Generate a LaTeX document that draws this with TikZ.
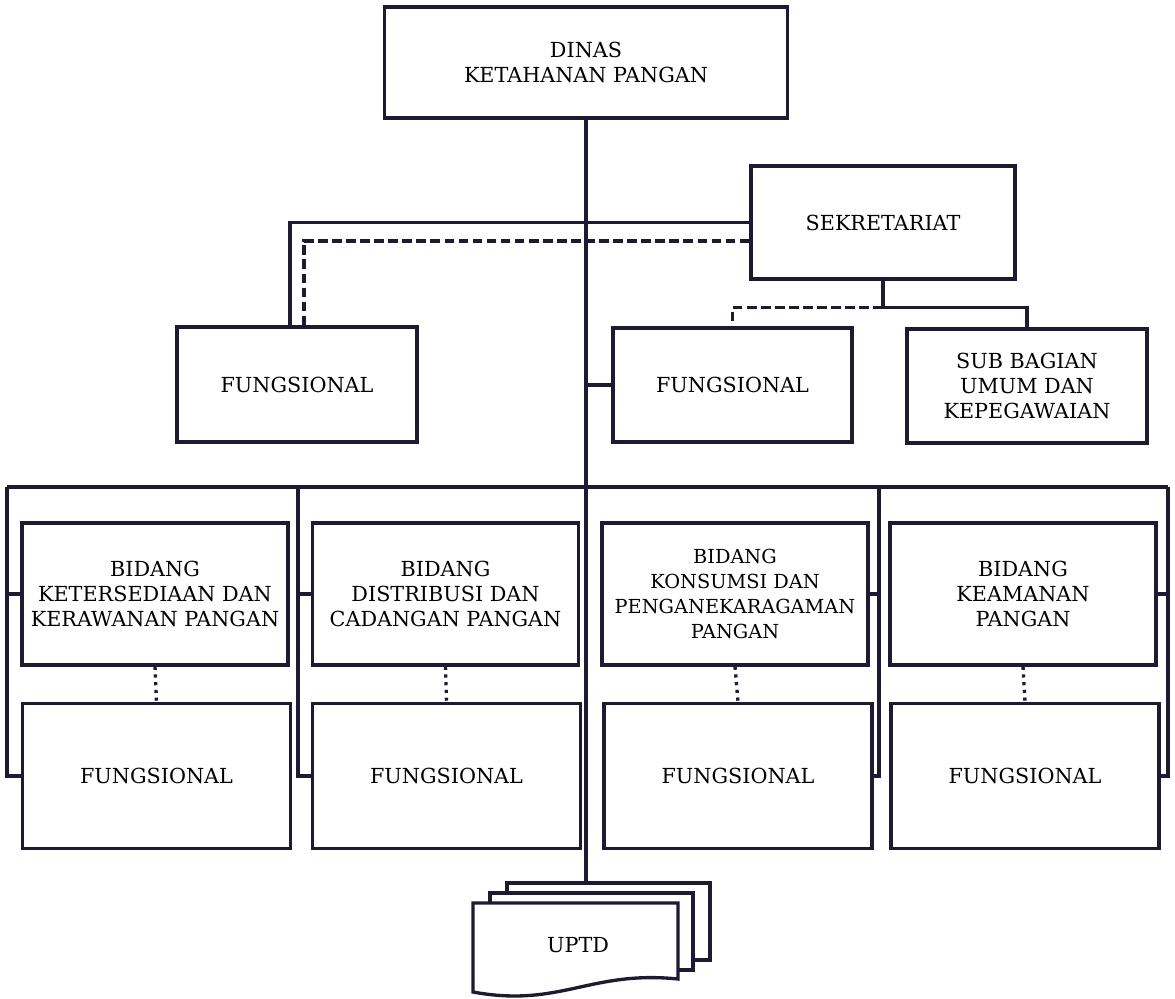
\documentclass[tikz,border=0pt]{standalone}
\usepackage{fontspec}
\setmainfont{DejaVu Serif}
\usepackage{tikz}
\definecolor{ink}{RGB}{30,26,50}

\begin{document}
\begin{tikzpicture}[x=0.02cm, y=-0.02cm, line width=1.9pt, draw=ink,
		box/.style={draw, align=center, inner sep=0pt, font=\fontsize{11.8}{14.2}\selectfont},
		bidbox/.style={box, minimum width=5.32cm, minimum height=2.84cm},
		funbox/.style={box, minimum width=5.36cm, minimum height=2.9cm},
		pagebox/.style={draw, fill=white, inner sep=0pt, minimum width=4.06cm, minimum height=1.54cm},
		dashlink/.style={dash pattern=on 5.5pt off 2.5pt},
		dotlink/.style={dash pattern=on 1.8pt off 2.6pt}]
	\useasboundingbox (0,0) rectangle (1175,999);

	% pimpinan dan sekretariat
	\node[box, minimum width=8.06cm, minimum height=2.22cm] (dinas) at (586,62.5) {DINAS\\KETAHANAN PANGAN};
	\node[box, minimum width=5.28cm, minimum height=2.26cm] (sekre) at (883,222.5) {SEKRETARIAT};
	\node[box, minimum width=4.8cm, minimum height=2.3cm] (fungL) at (297,384.5) {FUNGSIONAL};
	\node[box, minimum width=4.78cm, minimum height=2.28cm] (fungM) at (732.5,385) {FUNGSIONAL};
	\node[box, minimum width=4.8cm, minimum height=2.28cm] (subbag) at (1027,386) {SUB BAGIAN\\UMUM DAN\\KEPEGAWAIAN};

	% bidang
	\node[bidbox] (bid1) at (155,594) {BIDANG\\KETERSEDIAAN DAN\\KERAWANAN PANGAN};
	\node[bidbox] (bid2) at (445.5,594) {BIDANG\\DISTRIBUSI DAN\\CADANGAN PANGAN};
	\node[bidbox, font=\fontsize{11}{14.2}\selectfont] (bid3) at (735,594) {BIDANG\\KONSUMSI DAN\\PENGANEKARAGAMAN\\PANGAN};
	\node[bidbox] (bid4) at (1023,594) {BIDANG\\KEAMANAN\\PANGAN};
	\foreach \i/\x in {1/156.5,2/446.5,3/738,4/1025}
		\node[funbox] (fun\i) at (\x,776) {FUNGSIONAL};

	% uptd
	\node[pagebox] (uptd3) at (608.5,921.5) {};
	\node[pagebox] (uptd2) at (591.5,931.5) {};
	\filldraw[fill=white] (473,903) -- (678,903) -- (678,979) .. controls (590,970) and (560,1008) .. (473,992) -- cycle;
	\node[font=\fontsize{11.8}{14.2}\selectfont] (uptd) at (578,945) {UPTD};

	% garis
	\coordinate (busL) at (7,487);
	\coordinate (bus2) at (298,487);
	\coordinate (bus3) at (879,487);
	\coordinate (busR) at (1168,487);
	\draw (dinas.south) -- (dinas.south |- uptd3.north);
	\draw (dinas.south |- fungM.west) -- (fungM.west);
	\draw (sekre.west) -| ([xshift=-0.14cm]fungL.north);
	\draw[dashlink] ([yshift=-0.37cm]sekre.west) -| ([xshift=0.14cm]fungL.north);
	\coordinate (sj) at ([yshift=-0.54cm]sekre.south);
	\draw (sekre.south) -- (sj) -| (subbag.north);
	\draw[dashlink] (sj) -| (fungM.north);
	\draw (busL) -- (busR);
	\draw (busL) |- (fun1.west);
	\draw (bid1.west) -- (bid1.west -| busL);
	\draw (bus2) |- (fun2.west);
	\draw (bid2.west) -- (bid2.west -| bus2);
	\draw (bus3) |- (fun3.east);
	\draw (bid3.east) -- (bid3.east -| bus3);
	\draw (busR) |- (fun4.east);
	\draw (bid4.east) -- (bid4.east -| busR);
	\foreach \i in {1,...,4}
		\draw[dotlink] (bid\i.south) -- (fun\i.north);
\end{tikzpicture}
\end{document}
